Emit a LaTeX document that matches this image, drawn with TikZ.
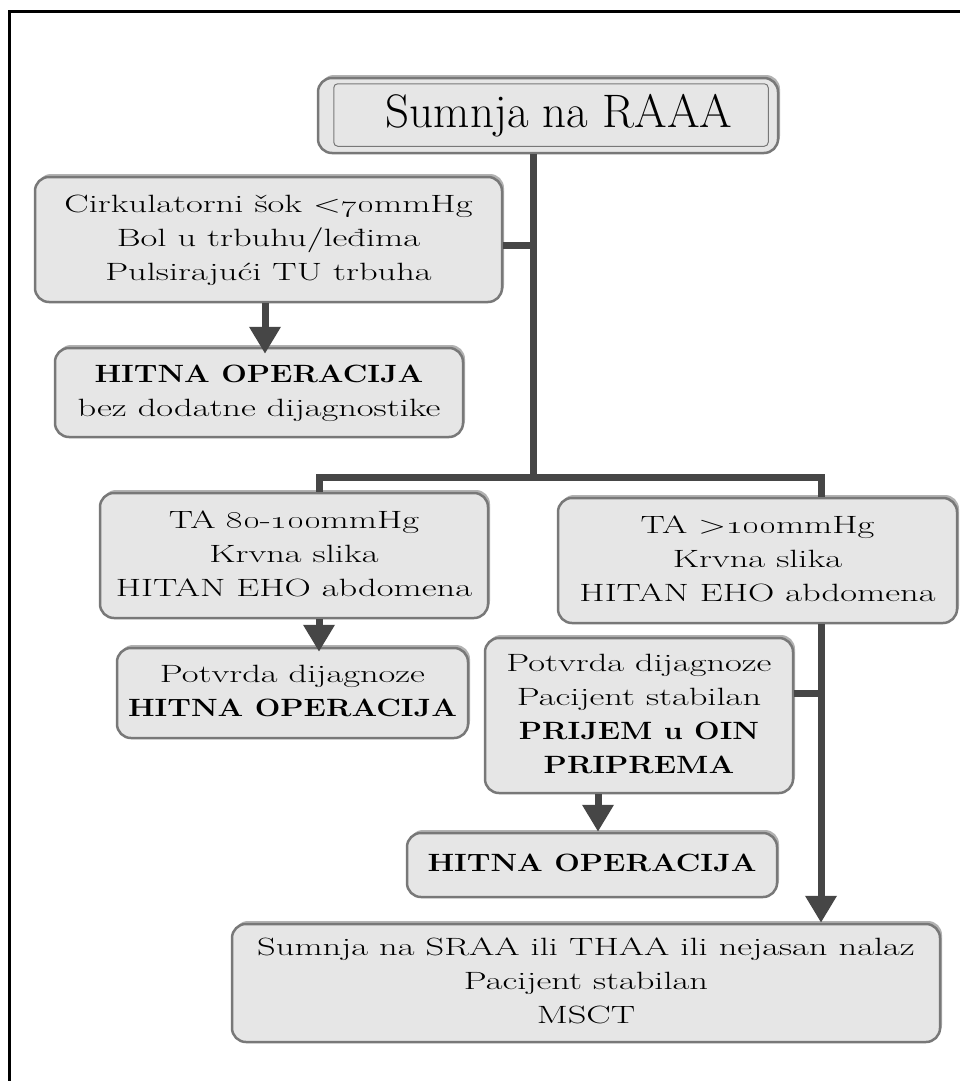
\documentclass[tikz,border=0pt]{standalone}
\usepackage{graphicx}
\newcommand\hb[1]{\scalebox{0.83}[1]{\textbf{#1}}}
\newcommand\bx[1]{\scalebox{1.46}[1]{\begin{tabular}{@{}c@{}}#1\end{tabular}}}
\usetikzlibrary{arrows.meta,shadows,calc}
\definecolor{connc}{RGB}{70,70,70}
\definecolor{boxfill}{RGB}{230,230,230}
\definecolor{boxedge}{RGB}{120,120,120}
\tikzset{
  box/.style={draw=boxedge, line width=2.5, rounded corners=14, fill=boxfill,
    align=center, inner sep=0, font=\fontsize{25}{34}\selectfont,
    drop shadow={shadow xshift=2, shadow yshift=-3, opacity=0.3, fill=black}},
  conn/.style={draw=connc, line width=7},
  arr/.style={conn, -{Triangle[width=30,length=27]}},
}
\begin{document}
\begin{tikzpicture}[x=1pt,y=-1pt]
\useasboundingbox (0,0) rectangle (960,1081);
% frame
\draw[black, line width=3] (9,1081) -- (9,12) -- (960,12);

% nodes
\node[box, minimum width=460, minimum height=75, font=\fontsize{47}{52}\selectfont] (top) at (548,115.5) {\hspace{22pt}Sumnja na RAAA};
\draw[boxedge, line width=1, rounded corners=4] ($(top.south west)+(17,-8)$) rectangle ($(top.north east)+(-11,7)$);

\node[box, minimum width=467, minimum height=125] (b2) at (268.5,239.5)
  {\bx{Cirkulatorni šok <\oldstylenums{70}mmHg\\Bol u trbuhu/leđima\\Pulsirajući TU trbuha}};
\node[box, minimum width=408, minimum height=89] (b3) at (259,392.5)
  {\bx{\hb{HITNA OPERACIJA}\\bez dodatne dijagnostike}};
\node[box, minimum width=388, minimum height=125] (b4) at (294,555.5)
  {\bx{TA \oldstylenums{80}-\oldstylenums{100}mmHg\\Krvna slika\\HITAN EHO abdomena}};
\node[box, minimum width=399, minimum height=125] (b5) at (757.5,560.5)
  {\bx{TA >\oldstylenums{100}mmHg\\Krvna slika\\HITAN EHO abdomena}};
\node[box, minimum width=351, minimum height=90] (b6) at (292.5,693)
  {\bx{Potvrda dijagnoze\\\hb{HITNA OPERACIJA}}};
\node[box, minimum width=308, minimum height=155] (b7) at (639,715.5)
  {\bx{Potvrda dijagnoze\\Pacijent stabilan\\\hb{PRIJEM u OIN}\\\hb{PRIPREMA}}};
\node[box, minimum width=370, minimum height=64] (b8) at (592,865)
  {\bx{\hb{HITNA OPERACIJA}}};
\node[box, minimum width=708, minimum height=118] (b9) at (586,983)
  {\bx{Sumnja na SRAA ili THAA ili nejasan nalaz\\Pacijent stabilan\\MSCT}};

% connector coordinates
\coordinate (trunk) at (533,477);
\coordinate (lft) at (319,477);
\coordinate (rgt) at (821,477);

\draw[conn] (top.south -| trunk) -- (trunk);
\draw[conn] (b2.east |- 0,245) -- (trunk |- 0,245);
\draw[conn] (b4.north -| lft) -- (lft) -- (rgt) -- (b5.north -| rgt);
\draw[arr] (b2.south -| 265,0) -- ($(b3.north -| 265,0)+(0,7)$);
\draw[arr] (b4.south -| lft) -- ($(b6.north -| lft)+(0,5)$);
\draw[arr] (b7.south -| 598,0) -- (b8.north -| 598,0);
\draw[conn] (b7.east |- 0,693) -- (rgt |- 0,693);
\draw[arr] (b5.south -| rgt) -- (b9.north -| rgt);
\end{tikzpicture}
\end{document}
